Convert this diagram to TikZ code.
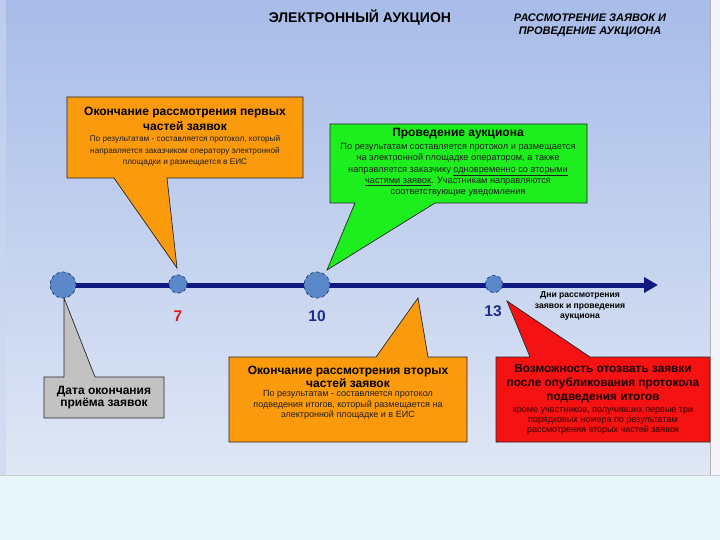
\documentclass[tikz,border=0pt]{standalone}
\usepackage{fontspec}
\setmainfont{Liberation Sans}
\usetikzlibrary{arrows.meta}
\definecolor{bgtop}{HTML}{A7BCE8}
\definecolor{bgbot}{HTML}{E0E7F5}
\definecolor{bglow}{HTML}{E8F6F7}
\definecolor{orangefill}{HTML}{FB9A0C}
\definecolor{greenfill}{HTML}{1DEE1D}
\definecolor{redfill}{HTML}{F41212}
\definecolor{greyfill}{HTML}{C2C2C2}
\definecolor{navy}{HTML}{0E1A80}
\definecolor{dotfill}{HTML}{5A88C8}
\definecolor{dotedge}{HTML}{24406E}
\definecolor{bodytext}{HTML}{1E1E1E}
\definecolor{sevenred}{HTML}{D8201C}
\definecolor{numblue}{HTML}{1C2C8C}
\tikzset{
  callout/.style={draw=black!85, line width=0.7pt, line join=miter},
  dot/.style={circle, draw=dotedge, dashed, line width=0.6pt, fill=dotfill, inner sep=0pt},
  boxtitle/.style={align=center, inner sep=0pt, font=\bfseries\fontsize{12}{14.5}\selectfont},
  boxbody/.style={align=center, inner sep=0pt, text=bodytext},
  numlabel/.style={inner sep=0pt, font=\bfseries\fontsize{15.5}{15.5}\selectfont}
}
\begin{document}
\begin{tikzpicture}[x=1pt,y=-1pt]
\useasboundingbox (0,0) rectangle (720,540);
% background
\fill[bglow] (0,0) rectangle (720,540);
\shade[top color=bgtop, bottom color=bgbot] (0,0) rectangle (710,475);
\fill[white!60!bgbot] (710,0) rectangle (720,475);
\draw[gray!60, line width=0.8pt] (710,0) -- (710,475);
\draw[gray!40, line width=0.8pt] (0,475) -- (720,475);
\fill[white!40!bgtop, opacity=0.6] (0,0) rectangle (6,475);

% titles
\node[inner sep=0pt, font=\bfseries\fontsize{14}{15}\selectfont] (title) at (360,18) {ЭЛЕКТРОННЫЙ АУКЦИОН};
\node[align=center, inner sep=0pt, font=\bfseries\itshape\fontsize{11}{13}\selectfont] (subtitle) at (590,25) {РАССМОТРЕНИЕ ЗАЯВОК И\\ ПРОВЕДЕНИЕ АУКЦИОНА};

% callouts
\filldraw[callout, fill=orangefill] (67,97) -- (303,97) -- (303,178) -- (167,178) -- (177,268) -- (114,178) -- (67,178) -- cycle;
\filldraw[callout, fill=greenfill] (330,124) -- (587,124) -- (587,203) -- (435,203) -- (327,270) -- (355,203) -- (330,203) -- cycle;
\filldraw[callout, fill=orangefill] (229,357) -- (376,357) -- (418,298) -- (428,357) -- (467,357) -- (467,442) -- (229,442) -- cycle;
\filldraw[callout, fill=redfill] (496,357) -- (530,357) -- (507,301) -- (590,357) -- (710,357) -- (710,442) -- (496,442) -- cycle;
\filldraw[callout, fill=greyfill] (44,377) -- (64,377) -- (64,298) -- (95,377) -- (164,377) -- (164,418) -- (44,418) -- cycle;

% timeline
\coordinate (tipend) at (658,285);
\node[dot, minimum size=26pt] (c0) at (63,285) {};
\node[dot, minimum size=18pt] (c7) at (178,284) {};
\node[dot, minimum size=26pt] (c10) at (317,285) {};
\node[dot, minimum size=17pt] (c13) at (494,284) {};
\draw[navy, line width=5pt, -{Triangle[length=14pt,width=15pt]}] (c0.center) -- (tipend);
\node[dot, minimum size=26pt] at (c0) {};
\node[dot, minimum size=18pt] at (c7) {};
\node[dot, minimum size=26pt] at (c10) {};
\node[dot, minimum size=17pt] at (c13) {};

\node[numlabel, text=sevenred] (n7) at (178,316) {7};
\node[numlabel, text=numblue] (n10) at (317,316) {10};
\node[numlabel, text=numblue] (n13) at (493,311) {13};
\node[align=center, inner sep=0pt, font=\bfseries\fontsize{8.6}{10.5}\selectfont] (days) at (580,306) {Дни рассмотрения\\ заявок и проведения\\ аукциона};

% box texts
\node[boxtitle] (t1) at (185,119) {Окончание рассмотрения первых\\ частей заявок};
\node[boxbody, font=\fontsize{8.2}{11.8}\selectfont] (b1) at (185,151) {По результатам - составляется протокол, который\\ направляется заказчиком оператору электронной\\ площадки и размещается в ЕИС};

\node[boxtitle] (t2) at (458,134) {Проведение аукциона};
\node[boxbody, font=\fontsize{9.2}{11.3}\selectfont] (b2) at (458,170) {По результатам составляется протокол и размещается\\ на электронной площадке оператором, а также\\ направляется заказчику \underline{одновременно со вторыми}\\ \underline{частями заявок}. Участникам направляются\\ соответствующие уведомления};

\node[boxtitle, font=\bfseries\fontsize{12}{13}\selectfont] (t3) at (348,377) {Окончание рассмотрения вторых\\ частей заявок};
\node[boxbody, font=\fontsize{9}{10.6}\selectfont] (b3) at (348,405) {По результатам - составляется протокол\\ подведения итогов, который размещается на\\ электронной площадке и в ЕИС};

\node[boxtitle, font=\bfseries\fontsize{11.8}{14}\selectfont, text=black!90!red] (t4) at (603,384) {Возможность отозвать заявки\\ после опубликования протокола\\ подведения итогов};
\node[boxbody, font=\fontsize{9}{9.8}\selectfont, text=black!80!red] (b4) at (603,421) {кроме участников, получивших первые три\\ порядковых номера по результатам\\ рассмотрения вторых частей заявок};

\node[boxtitle, font=\bfseries\fontsize{12}{11.8}\selectfont] (t5) at (104,398) {Дата окончания\\ приёма заявок};
\end{tikzpicture}
\end{document}
